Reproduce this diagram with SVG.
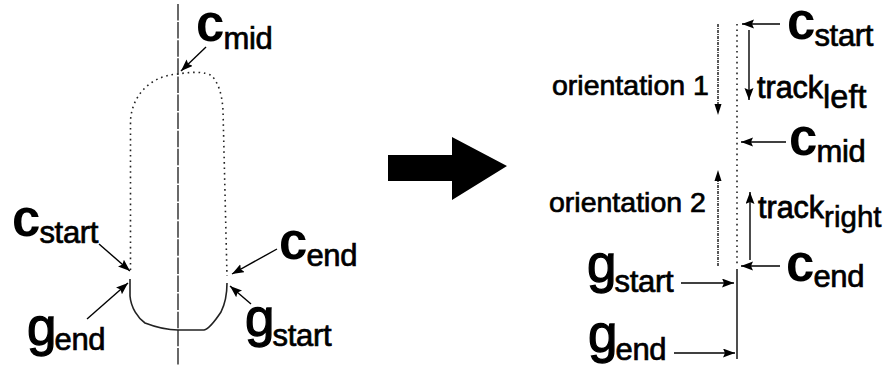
<svg xmlns="http://www.w3.org/2000/svg" width="889" height="369" viewBox="0 0 889 369">
<style>
text{font-family:"Liberation Sans",Arial,sans-serif;fill:#000}
.big{font-size:51px;font-weight:700}
.gee{font-size:53px;stroke:#000;stroke-width:1.300px}
.sub{font-size:31px;font-weight:400;stroke:#000;stroke-width:.7px;letter-spacing:-.3px}
.lab{font-size:28.500px;stroke:#000;stroke-width:.7px}
.trk{font-size:30.500px;stroke:#000;stroke-width:.8px}
.trs{font-size:32.500px;stroke:#000;stroke-width:.6px}
.trr{font-size:29.500px;stroke:#000;stroke-width:.6px}
.arr{fill:none;stroke:#000;stroke-width:1.4;marker-end:url(#a)}
.dot{fill:none;stroke:#222;stroke-width:1.6;stroke-dasharray:1.6 3.8}
.sol{fill:none;stroke:#222;stroke-width:1.6}
</style>
<defs>
<marker id="a" markerUnits="userSpaceOnUse" markerWidth="13" markerHeight="10" refX="12" refY="4.500" orient="auto"><path d="M0 0L12 4.500L0 9L2 4.500Z" fill="#000"/></marker>
</defs>
<g id="connectors">
<path class="arr" d="M206 47L181 71"/>
<path class="arr" d="M99 244L130 271"/>
<path class="arr" d="M277 249L232 274"/>
<path class="arr" d="M87 319L128 283"/>
<path class="arr" d="M251 304L230 286"/>
<path class="arr" d="M780 24H742"/>
<path class="arr" d="M749 30V100"/>
<path class="arr" d="M786 142H741"/>
<path class="arr" d="M780 266H741"/>
<path class="arr" d="M750 260V192"/>
<path class="arr" d="M681 283H734"/>
<path class="arr" d="M674 353H735"/>
<path d="M718 24V106" fill="none" stroke="#222" stroke-width="1.5" stroke-dasharray="3 1 1 1"/>
<path d="M718 266V178" fill="none" stroke="#222" stroke-width="1.5" stroke-dasharray="3 1 1 1"/>
<path d="M718 115L714.500 104H721.500Z" fill="#000"/>
<path d="M718 170L714.500 181H721.500Z" fill="#000"/>
</g>
<g id="centerline"><path d="M178 4V365" fill="none" stroke="#444" stroke-width="1.6" stroke-dasharray="16.500 1.600"/></g>
<g id="contour">
<path class="dot" d="M130.500 270V122C131 98 148 76 178 74C190 72 205 71 212 76C219 84 222 95 223 110L227 276"/>
<path class="sol" d="M130 279V296C131 308 138 318 145 323C158 328 168 330 178 330H204C209 329 215 321 221 312C225 304 227 296 227 283"/>
</g>
<g id="straight">
<path class="dot" d="M737 24V266"/>
<path class="sol" d="M737 269V359"/>
</g>
<g id="big-arrow"><path d="M388 155H452V137L507 166L452 200V181H388Z" fill="#000"/></g>
<g id="label-cmid"><text x="196" y="41" class="big">c<tspan class="sub" dy="8" dx="-1">mid</tspan></text></g>
<g id="label-cstart-l"><text x="12" y="236" class="big">c<tspan class="sub" dy="7" dx="-1">start</tspan></text></g>
<g id="label-cend-l"><text x="279" y="259" class="big">c<tspan class="sub" dy="7" dx="-1">end</tspan></text></g>
<g id="label-gend-l"><text x="27" y="345" class="gee">g<tspan class="sub" dy="5" dx="-2">end</tspan></text></g>
<g id="label-gstart-l"><text x="245" y="336" class="gee">g<tspan class="sub" dy="10" dx="-2">start</tspan></text></g>
<g id="label-cstart-r"><text x="787" y="39" class="big">c<tspan class="sub" dy="7" dx="-1">start</tspan></text></g>
<g id="label-orient1"><text x="552" y="95" class="lab">orientation 1</text></g>
<g id="label-trackleft"><text x="757" y="98" class="trk">track<tspan class="trs" dy="10">left</tspan></text></g>
<g id="label-cmid-r"><text x="789" y="155" class="big">c<tspan class="sub" dy="7" dx="-1">mid</tspan></text></g>
<g id="label-orient2"><text x="549" y="212" class="lab">orientation 2</text></g>
<g id="label-trackright"><text x="758" y="218" class="trk">track<tspan class="trr" dy="9">right</tspan></text></g>
<g id="label-cend-r"><text x="786" y="281" class="big">c<tspan class="sub" dy="6" dx="-1">end</tspan></text></g>
<g id="label-gstart-r"><text x="587" y="282" class="gee">g<tspan class="sub" dy="10" dx="-2">start</tspan></text></g>
<g id="label-gend-r"><text x="588" y="352" class="gee">g<tspan class="sub" dy="8" dx="-2">end</tspan></text></g>
</svg>
